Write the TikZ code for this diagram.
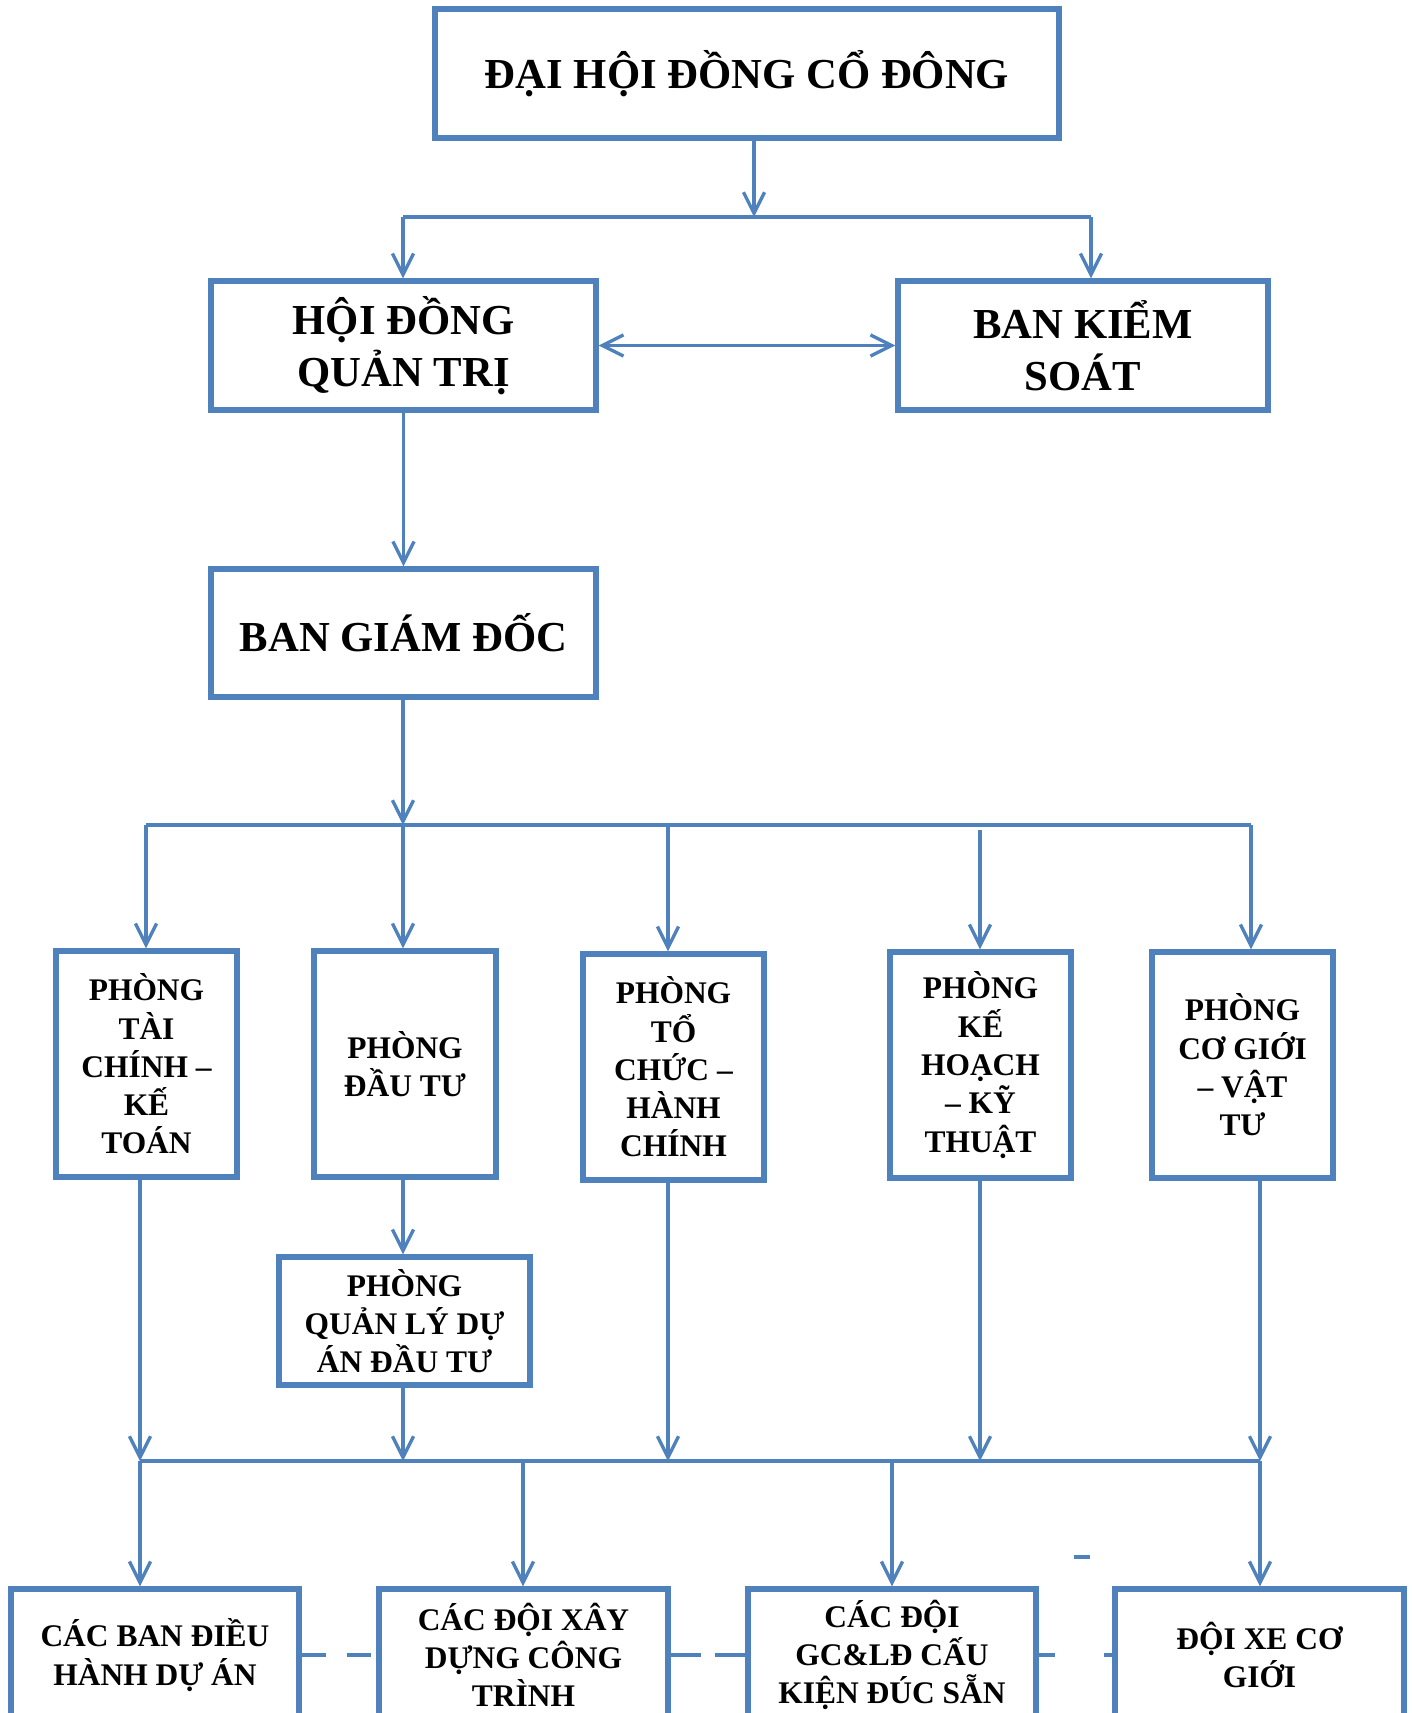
\documentclass[tikz,border=0pt]{standalone}
\usepackage{fontspec}
\setmainfont{Liberation Serif}
\usetikzlibrary{arrows.meta}
\definecolor{boxblue}{RGB}{79,129,189}
\tikzstyle{big box}=[draw=boxblue,line width=3.1pt,fill=white,align=center,inner sep=0pt,font=\fontsize{24.3}{29.8}\selectfont\bfseries]
\tikzstyle{small box}=[draw=boxblue,line width=3.1pt,fill=white,align=center,inner sep=0pt,font=\fontsize{17.9}{21.8}\selectfont\bfseries]
\tikzstyle{edge}=[draw=boxblue,line width=1.9pt]
\tikzstyle{arrow edge}=[edge,-{Straight Barb[length=12pt,width=12pt]}]
\tikzstyle{both edge}=[edge,{Straight Barb[length=12pt,width=12pt]}-{Straight Barb[length=12pt,width=12pt]}]
\tikzstyle{dash edge}=[edge,dash pattern=on 0.48cm off 0.42cm]

\begin{document}
\begin{tikzpicture}
          \useasboundingbox (0,0) rectangle (28.24,-34.26);
          % top levels
          \node[big box,minimum width=12.48cm,minimum height=2.58cm] (dhdcd) at (14.94,-1.47) {ĐẠI HỘI ĐỒNG CỔ ĐÔNG};
          \node[big box,minimum width=7.70cm,minimum height=2.58cm] (hdqt) at (8.07,-6.91) {HỘI ĐỒNG\\QUẢN TRỊ};
          \node[big box,minimum width=7.40cm,minimum height=2.58cm] (bks) at (21.66,-6.91) {BAN KIỂM\\SOÁT};
          \node[big box,minimum width=7.70cm,minimum height=2.56cm] (bgd) at (8.07,-12.66) {BAN GIÁM ĐỐC};
          % phong ban
          \node[small box,minimum width=3.62cm,minimum height=4.52cm] (p1) at (2.93,-21.28) {PHÒNG\\TÀI\\CHÍNH –\\KẾ\\TOÁN};
          \node[small box,minimum width=3.64cm,minimum height=4.52cm] (p2) at (8.10,-21.28) {PHÒNG\\ĐẦU TƯ};
          \node[small box,minimum width=3.62cm,minimum height=4.52cm] (p3) at (13.47,-21.34) {PHÒNG\\TỔ\\CHỨC –\\HÀNH\\CHÍNH};
          \node[small box,minimum width=3.62cm,minimum height=4.52cm] (p4) at (19.61,-21.30) {PHÒNG\\KẾ\\HOẠCH\\– KỸ\\THUẬT};
          \node[small box,minimum width=3.62cm,minimum height=4.52cm] (p5) at (24.85,-21.30) {PHÒNG\\CƠ GIỚI\\– VẬT\\TƯ};
          \node[small box,minimum width=5.02cm,minimum height=2.56cm] (qlda) at (8.09,-26.42) {PHÒNG\\QUẢN LÝ DỰ\\ÁN ĐẦU TƯ};
          % don vi
          \node[small box,minimum width=5.76cm,minimum height=2.64cm] (b1) at (3.10,-33.10) {CÁC BAN ĐIỀU\\HÀNH DỰ ÁN};
          \node[small box,minimum width=5.78cm,minimum height=2.64cm] (b2) at (10.47,-33.10) {CÁC ĐỘI XÂY\\DỰNG CÔNG\\TRÌNH};
          \node[small box,minimum width=5.76cm,minimum height=2.64cm] (b3) at (17.84,-33.10) {CÁC ĐỘI\\GC\&LĐ CẤU\\KIỆN ĐÚC SẴN};
          \node[small box,minimum width=5.78cm,minimum height=2.64cm] (b4) at (25.19,-33.10) {ĐỘI XE CƠ\\GIỚI};

          \coordinate (t0) at (15.08,-4.34);
          \coordinate (tl) at (8.06,-4.34);
          \coordinate (tr) at (21.82,-4.34);
          \draw[arrow edge] (dhdcd.south -| t0) to (t0);
          \draw[edge] (tl) to (tr);
          \draw[arrow edge] (tl) to (tl |- hdqt.north);
          \draw[arrow edge] (tr) to (tr |- bks.north);
          \draw[both edge] (hdqt.east) to (bks.west);
          \draw[arrow edge] (hdqt.south) to (bgd.north);

          \coordinate (m1) at (2.92,-16.50);
          \coordinate (m2) at (8.06,-16.50);
          \coordinate (m3) at (13.36,-16.50);
          \coordinate (m4) at (19.60,-16.50);
          \coordinate (m5) at (25.02,-16.50);
          \draw[arrow edge] (bgd.south -| m2) to (m2);
          \draw[edge] (m1) to (m5);
          \draw[arrow edge] (m1) to (m1 |- p1.north);
          \draw[arrow edge] (m2) to (m2 |- p2.north);
          \draw[arrow edge] (m3) to (m3 |- p3.north);
          \draw[arrow edge] ([yshift=-0.1cm]m4) to (m4 |- p4.north);
          \draw[arrow edge] (m5) to (m5 |- p5.north);
          \draw[arrow edge] (p2.south -| m2) to (m2 |- qlda.north);

          \coordinate (l1) at (2.80,-29.22);
          \coordinate (l2) at (8.06,-29.22);
          \coordinate (l3) at (13.36,-29.22);
          \coordinate (l4) at (19.60,-29.22);
          \coordinate (l5) at (25.20,-29.22);
          \coordinate (d2) at (10.46,-29.22);
          \coordinate (d3) at (17.84,-29.22);
          \draw[arrow edge] (p1.south -| l1) to (l1);
          \draw[arrow edge] (qlda.south -| l2) to (l2);
          \draw[arrow edge] (p3.south -| l3) to (l3);
          \draw[arrow edge] (p4.south -| l4) to (l4);
          \draw[arrow edge] (p5.south -| l5) to (l5);
          \draw[edge] (l1) to (l5);
          \draw[arrow edge] (l1) to (l1 |- b1.north);
          \draw[arrow edge] (d2) to (d2 |- b2.north);
          \draw[arrow edge] (d3) to (d3 |- b3.north);
          \draw[arrow edge] (l5) to (l5 |- b4.north);

          \draw[dash edge] (b1.east) to (b2.west);
          \draw[edge,dash pattern=on 0.6cm off 0.28cm] (b2.east) to (b3.west);
          \draw[edge,dash pattern=on 0.32cm off 0.98cm] (b3.east) to (b4.west);
          \draw[edge] (21.48,-31.14) -- (21.80,-31.14);
\end{tikzpicture}
\end{document}
